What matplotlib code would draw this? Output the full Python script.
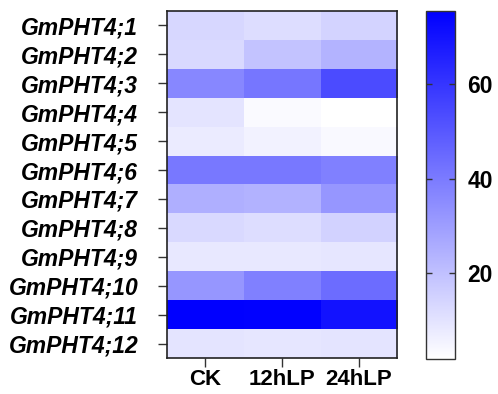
import numpy as np
import matplotlib.pyplot as plt
from matplotlib.colors import LinearSegmentedColormap

### data
genes = ['GmPHT4;1', 'GmPHT4;2', 'GmPHT4;3', 'GmPHT4;4', 'GmPHT4;5', 'GmPHT4;6',
         'GmPHT4;7', 'GmPHT4;8', 'GmPHT4;9', 'GmPHT4;10', 'GmPHT4;11', 'GmPHT4;12']
conds = ['CK', '12hLP', '24hLP']

ck    = [13.3, 12.7, 36.5, 9.5, 7.5, 40.8, 24.9, 12.7, 8.4, 32.1, 75.6, 9.5]
h12   = [11.8, 19.1, 41.4, 3.2, 5.5, 40.8, 24.0, 11.8, 8.4, 38.5, 75.0, 9.0]
h24   = [14.2, 23.4, 53.9, 1.7, 3.7, 38.5, 32.1, 14.7, 9.0, 44.3, 70.0, 9.5]

cbar_ticks = [20, 40, 60]
vmin, vmax = 1.7, 75.6

plt.rcParams['font.family'] = ['Liberation Sans', 'DejaVu Sans']

vals = np.array([ck, h12, h24]).T
cmap = LinearSegmentedColormap.from_list('wb', ['#ffffff', '#0000ff'])

fig = plt.figure(figsize=(4.98, 3.94), dpi=100)
ax = fig.add_axes([0.3347, 0.0914, 0.4625, 0.8807])
cax = fig.add_axes([0.8554, 0.0888, 0.0582, 0.8832])

im = ax.imshow(vals, cmap=cmap, vmin=vmin, vmax=vmax, aspect='auto',
               interpolation='nearest')

ax.set_yticks(range(len(genes)))
ax.set_yticklabels(genes, fontsize=16.5, fontweight='bold', style='italic')
ax.set_xticks(range(len(conds)))
ax.set_xticklabels(conds, fontsize=16, fontweight='bold')
ax.tick_params(axis='y', length=6.5, width=1, pad=14, color='#333333')
ax.tick_params(axis='x', length=6.5, width=1, pad=1.5, color='#333333')
for s in ax.spines.values():
    s.set_linewidth(1.2)
    s.set_color('#222222')

cb = fig.colorbar(im, cax=cax)
cb.set_ticks(cbar_ticks)
cb.ax.tick_params(labelsize=16.5, length=4, width=1, direction='in',
                  left=True, right=True, pad=9, color='#333333')
for lab in cb.ax.get_yticklabels():
    lab.set_fontweight('bold')
cb.outline.set_linewidth(1)
cb.outline.set_edgecolor('#333333')

plt.savefig('out.png', dpi=100)
